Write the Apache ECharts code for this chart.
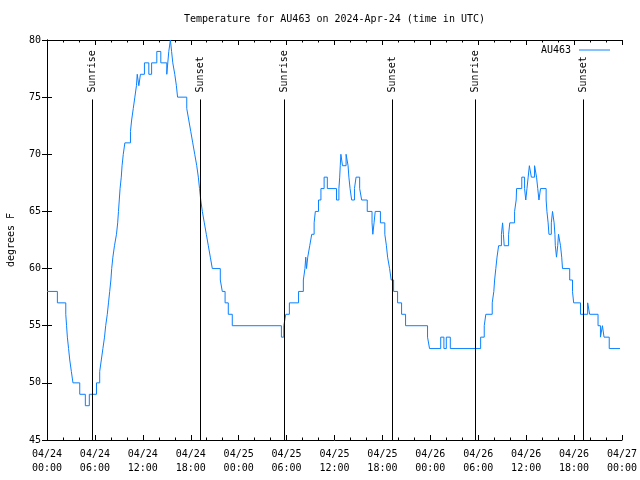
<!DOCTYPE html>
<html><head><meta charset="utf-8">
<script src="https://cdn.jsdelivr.net/npm/echarts@6/dist/echarts.min.js"></script>
<style>html,body{margin:0;padding:0;background:#fff}#c{width:640px;height:480px}</style>
</head><body><div id="c"></div>
<script>
// Hours since 04/24 00:00 UTC where temperature changes to the given value (deg F)
const hours = [0,1.3,2.35,2.45,2.55,2.7,2.85,3.05,3.25,4.1,4.8,5.3,6.2,6.6,6.8,7.0,7.2,7.35,7.55,7.7,7.85,8.0,8.1,8.25,8.45,8.7,8.85,8.95,9.05,9.15,9.3,9.4,9.55,9.75,10.45,10.6,10.8,11.0,11.2,11.3,11.5,11.7,12.2,12.75,13.1,13.75,14.25,15.0,15.25,15.45,15.6,15.75,16.0,16.2,16.35,17.5,17.75,18.0,18.25,18.5,18.75,18.95,19.1,19.25,19.45,19.7,19.95,20.2,20.45,20.7,21.7,21.95,22.3,22.7,23.2,29.35,29.65,29.9,30.35,31.5,32.1,32.3,32.4,32.5,32.65,32.9,33.15,33.45,33.6,34.0,34.3,34.7,35.1,36.25,36.55,36.65,36.72,36.8,37.0,37.45,37.7,37.8,37.95,38.15,38.5,38.7,39.15,39.4,40.1,40.7,40.8,40.95,41.1,41.75,42.3,42.5,42.65,42.9,43.1,43.4,43.9,44.4,44.9,47.65,47.9,49.3,49.7,50.0,50.5,54.3,54.75,54.95,55.75,55.95,56.05,56.2,56.35,56.55,56.9,57.05,57.15,57.25,57.8,57.95,58.55,58.75,58.8,59.45,59.8,59.95,60.1,60.25,60.4,60.65,61.05,61.3,61.45,61.6,61.8,62.5,62.6,62.75,62.85,63.15,63.3,63.5,63.6,63.65,63.8,63.95,64.05,64.3,64.45,64.55,65.45,65.8,65.95,66.8,67.7,67.95,69.0,69.3,69.55,69.75,70.4,71.75];
const temps = [58,57,56,55,54,53,52,51,50,49,48,49,50,51,52,53,54,55,56,57,58,59,60,61,62,63,64,65,66,67,68,69,70,71,72,73,74,75,76,77,76,77,78,77,78,79,78,77,79,80,79,78,77,76,75,74,73,72,71,70,69,68,67,66,65,64,63,62,61,60,59,58,57,56,55,54,55,56,57,58,59,60,61,60,61,62,63,64,65,66,67,68,67,66,67,68,69,70,69,70,69,68,67,66,67,68,67,66,65,64,63,64,65,64,63,62,61,60,59,58,57,56,55,54,53,54,53,54,53,54,55,56,57,58,59,60,61,62,63,64,63,62,63,64,65,66,67,68,67,66,67,68,69,68,69,68,67,66,67,66,65,64,63,64,65,64,63,62,61,62,63,62,61,60,59,58,57,56,57,56,55,54,55,54,53,53];
const sunHours = [5.67, 19.2, 29.71, 43.24, 53.63, 67.16];
const sunLabels = ['Sunrise','Sunset','Sunrise','Sunset','Sunrise','Sunset'];
const xTickLabels = ['04/24\n00:00','04/24\n06:00','04/24\n12:00','04/24\n18:00','04/25\n00:00','04/25\n06:00','04/25\n12:00','04/25\n18:00','04/26\n00:00','04/26\n06:00','04/26\n12:00','04/26\n18:00','04/27\n00:00'];
const yTicks = [45,50,55,60,65,70,75,80];
const seriesName = 'AU463';
const titleText = 'Temperature for AU463 on 2024-Apr-24 (time in UTC)';
const yName = 'degrees F';
const sunLineTop = 74.8;

const FONT = 'DejaVu Sans Mono';
const lineData = hours.map((h,i)=>[h,temps[i]]);
const chart = echarts.init(document.getElementById('c'), null, {renderer:'canvas'});
const axisCommon = {
  axisLine:{show:true,lineStyle:{color:'#000',width:1}},
  splitLine:{show:false}
};
chart.setOption({
  animation:false,
  backgroundColor:'#fff',
  grid:{left:47,right:18,top:40,bottom:40,containLabel:false,outerBoundsMode:'none'},
  graphic:[{type:'text',x:334.5,y:19,style:{text:titleText,font:'10px '+FONT,fill:'#000',textAlign:'center',textVerticalAlign:'middle'}}],
  legend:{data:[seriesName],right:25,top:40,align:'right',icon:'rect',itemWidth:31,itemHeight:1,itemGap:0,
    textStyle:{fontFamily:FONT,fontSize:10,color:'#000',padding:[0,3,0,0]},itemStyle:{color:'#0a80ff'}},
  xAxis:[
    Object.assign({type:'value',min:0,max:72,interval:6,position:'bottom',
      axisTick:{show:true,inside:true,length:5,lineStyle:{color:'#000'}},
      minorTick:{show:true,splitNumber:3,length:2.5,lineStyle:{color:'#000'}},
      axisLabel:{show:true,margin:7,fontFamily:FONT,fontSize:10,color:'#000',lineHeight:14,
        formatter:(v)=>xTickLabels[Math.round(v/6)]}},axisCommon),
    Object.assign({type:'value',min:0,max:72,interval:6,position:'top',
      axisTick:{show:true,inside:true,length:5,lineStyle:{color:'#000'}},
      minorTick:{show:true,splitNumber:3,length:2.5,lineStyle:{color:'#000'}},
      axisLabel:{show:false}},axisCommon)
  ],
  yAxis:[
    Object.assign({type:'value',min:yTicks[0],max:yTicks[yTicks.length-1],interval:5,position:'left',
      name:yName,nameLocation:'middle',nameGap:31,nameRotate:90,
      nameTextStyle:{fontFamily:FONT,fontSize:10,color:'#000'},
      axisTick:{show:true,inside:true,length:5,lineStyle:{color:'#000'}},
      axisLabel:{show:true,margin:6,fontFamily:FONT,fontSize:10,color:'#000'}},axisCommon),
    Object.assign({type:'value',min:yTicks[0],max:yTicks[yTicks.length-1],interval:5,position:'right',
      axisTick:{show:true,inside:true,length:5,lineStyle:{color:'#000'}},
      axisLabel:{show:false}},axisCommon)
  ],
  series:[
    {name:seriesName,type:'line',data:lineData,step:'end',showSymbol:false,symbol:'none',
      lineStyle:{color:'#0a80ff',width:1},itemStyle:{color:'#0a80ff'},z:2},
    {name:'sun',type:'custom',data:sunHours.map(h=>[h]),z:3,clip:false,
      renderItem:function(params,api){
        const h=api.value(0);
        const top=api.coord([h,sunLineTop]);
        const bot=api.coord([h,45]);
        const x=Math.round(top[0])+0.5;
        return {type:'group',children:[
          {type:'line',shape:{x1:x,y1:bot[1],x2:x,y2:top[1]},style:{stroke:'#000',lineWidth:1}},
          {type:'text',x:x,y:top[1]-7,rotation:Math.PI/2,
            style:{text:sunLabels[params.dataIndex],font:'10px '+FONT,fill:'#000',textAlign:'left',textVerticalAlign:'middle'}}
        ]};
      }}
  ]
});
</script></body></html>
